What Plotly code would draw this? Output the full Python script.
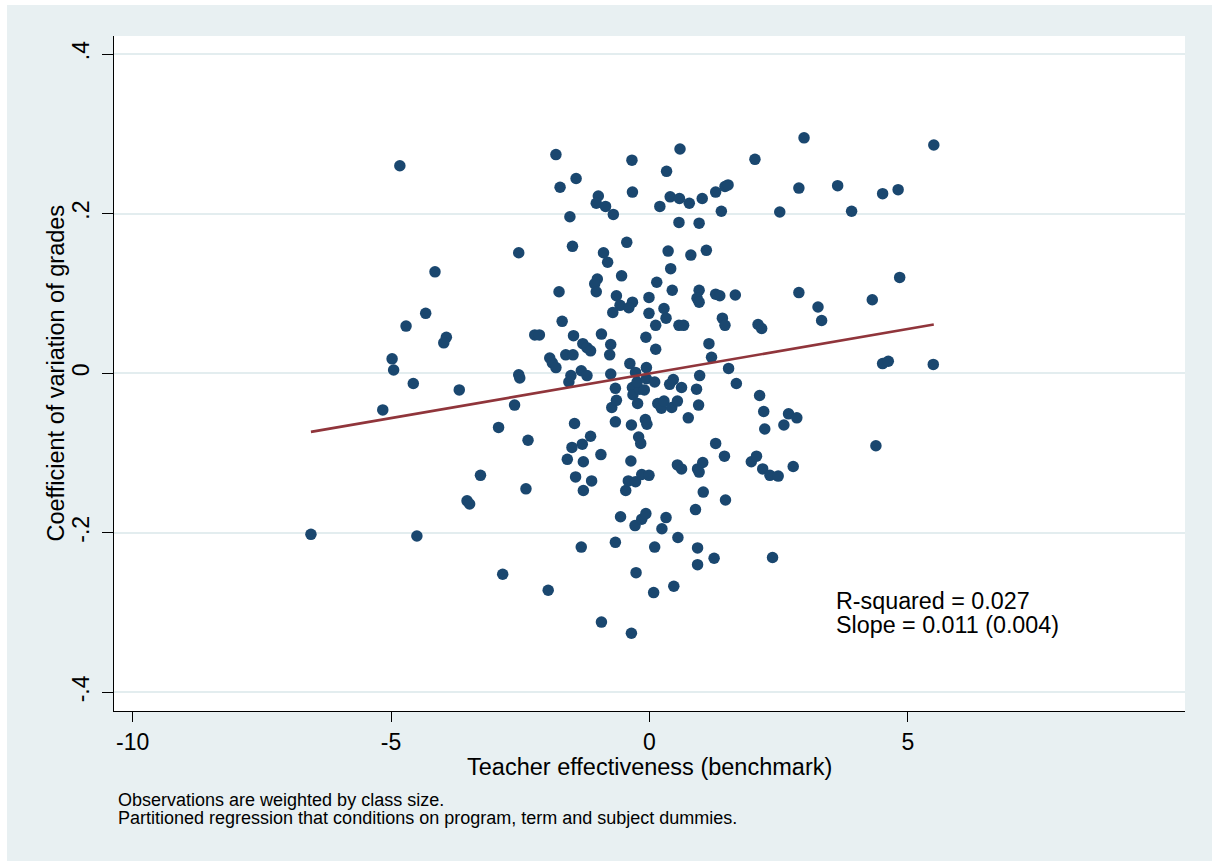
import plotly.graph_objects as go

# ---------------- data ----------------
teacher_effectiveness = [
    -4.83, -4.15, -4.33, -4.71, -3.93, -3.98, -4.98, -4.95,
    -4.57, -3.68, -5.16, -2.92, -3.27, -3.53, -3.48, -6.55, -4.50, -2.84,
    -1.81, -0.34, 0.59, -1.42, -1.73, 0.33, -0.33, -0.99, -1.03, -0.85, -0.70, -1.54, 0.20, 0.40, 0.58, 0.77, 1.02, 1.28, 0.57, 0.96,
    -2.53, -1.49, -0.44, -0.89, -0.81, 0.36, 0.80, 1.10, 0.41, -0.54, -1.01, -1.06, -1.03, -1.75, 0.14, 0.44, 0.96, 0.92, 0.96, 1.28,
    -0.64, -0.57, -0.33, -0.40, -0.71, -0.01, -0.01, 0.28, 0.32, 0.12, 0.57, 0.66, -1.69, -2.22, -2.13, -1.47, -0.93, -0.07, -1.29, -1.21,
    -1.14, -0.75, -0.77, 0.12, 1.15, 1.20, -1.93, -1.88, -1.81, -1.62, -1.48, -2.53, -1.52, -1.32, -1.21, -0.75, -0.38, -0.06, -0.27, 0.97,
    -2.51, -1.56, -2.61, -2.35, -2.39, -1.96, -1.45, -1.14, -1.30, -1.50, -1.59, -1.28, -0.94, -1.43, -1.12, -1.28, -1.32, -0.93, -0.35, -0.66,
    -0.56, -0.28, -0.15, -0.07, 0.32, 0.24, 0.55, 0.10, -0.26, 0.08, 0.47, 0.93, 0.93, 1.25, 0.89, 1.04, 0.93, 0.96, 1.03, 0.54,
    0.62, -0.36, -0.46, -0.41, -0.27, -0.15, -0.01, -0.66, -0.35, -0.08, -0.05, -0.21, -0.17, -0.73, -0.64, -0.66, -0.33, -0.32, -0.23, -0.19,
    -0.10, -0.24, -0.06, 0.10, 0.16, 0.23, 0.28, 0.43, 0.54, 0.39, 0.46, 0.62, 0.75, 0.91, 0.95, 1.28,
    2.99, 5.50, 2.04, 1.46, 1.52, 2.89, 3.64, 4.51, 4.81, 1.39, 2.52, 3.91, 1.36, 1.66, 2.89, 3.26, 3.33, 4.31, 4.84, 1.41,
    1.46, 2.10, 2.17, 1.53, 1.68, 4.51, 4.62, 5.49,
    2.13, 2.21, 2.69, 2.85, 2.60, 2.23, 1.45, 1.97, 2.07, 2.19, 2.33, 2.49, 2.78, 4.38, 1.47, 2.38,
]
grade_cv = [
    0.260, 0.127, 0.075, 0.059, 0.045, 0.038, 0.018, 0.004,
    -0.013, -0.021, -0.046, -0.068, -0.128, -0.160, -0.164, -0.202, -0.204, -0.252,
    0.274, 0.267, 0.281, 0.244, 0.233, 0.253, 0.227, 0.222, 0.213, 0.209, 0.199, 0.196, 0.209, 0.221, 0.219, 0.213, 0.219, 0.227, 0.189, 0.188,
    0.151, 0.159, 0.164, 0.151, 0.139, 0.153, 0.148, 0.154, 0.131, 0.122, 0.118, 0.112, 0.102, 0.102, 0.114, 0.104, 0.104, 0.094, 0.089, 0.099,
    0.097, 0.085, 0.089, 0.082, 0.076, 0.095, 0.075, 0.081, 0.069, 0.060, 0.060, 0.060, 0.065, 0.048, 0.048, 0.047, 0.049, 0.045, 0.037, 0.032,
    0.028, 0.036, 0.023, 0.030, 0.037, 0.020, 0.019, 0.013, 0.007, 0.023, 0.023, -0.002, -0.003, 0.003, -0.003, -0.001, 0.012, 0.007, 0.001, -0.003,
    -0.006, -0.011, -0.040, -0.084, -0.145, -0.272, -0.063, -0.079, -0.089, -0.093, -0.108, -0.111, -0.102, -0.130, -0.135, -0.147, -0.218, -0.312, -0.326, -0.212,
    -0.180, -0.191, -0.183, -0.176, -0.181, -0.195, -0.206, -0.218, -0.250, -0.275, -0.267, -0.219, -0.240, -0.232, -0.171, -0.149, -0.120, -0.124, -0.112, -0.115,
    -0.120, -0.110, -0.147, -0.135, -0.136, -0.127, -0.128, -0.061, -0.065, -0.058, -0.064, -0.080, -0.088, -0.043, -0.034, -0.019, -0.018, -0.027, -0.038, -0.020,
    -0.021, -0.011, -0.007, -0.011, -0.038, -0.044, -0.035, -0.043, -0.035, -0.014, -0.008, -0.018, -0.056, -0.020, -0.040, -0.088,
    0.295, 0.286, 0.268, 0.234, 0.236, 0.232, 0.235, 0.225, 0.230, 0.203, 0.202, 0.203, 0.097, 0.098, 0.101, 0.083, 0.066, 0.092, 0.120, 0.069,
    0.060, 0.061, 0.056, 0.006, -0.013, 0.012, 0.015, 0.011,
    -0.028, -0.048, -0.051, -0.056, -0.065, -0.070, -0.104, -0.111, -0.104, -0.120, -0.128, -0.129, -0.117, -0.091, -0.159, -0.231,
]

# fitted regression line (end points)
fit_x = [-6.55, 5.50]
fit_y = [-0.0736, 0.0610]

x_tick_vals = [-10, -5, 0, 5]
x_tick_text = ["-10", "-5", "0", "5"]
y_tick_vals = [-0.4, -0.2, 0.0, 0.2, 0.4]
y_tick_text = ["-.4", "-.2", "0", ".2", ".4"]

x_title = "Teacher effectiveness (benchmark)"
y_title = "Coefficient of variation of grades"
stats_lines = ["R-squared = 0.027", "Slope = 0.011 (0.004)"]
note_lines = ["Observations are weighted by class size.",
              "Partitioned regression that conditions on program, term and subject dummies."]

# ---------------- styling / layout ----------------
W, H = 1212, 861
L, R, T, B = 114, 1185, 36, 711          # plot area in pixels
PW, PH = R - L, B - T
FONT = "Liberation Sans, Arial, Helvetica, sans-serif"
BG = "#e8f0f2"
NAVY = "#1a476f"
MAROON = "#90353b"


def px(xp):
    return (xp - L) / PW


def py(yp):
    return (B - yp) / PH


fig = go.Figure()
fig.add_trace(go.Scatter(
    x=teacher_effectiveness, y=grade_cv, mode="markers",
    marker=dict(color=NAVY, size=11.5, line=dict(width=0)),
    showlegend=False, hoverinfo="x+y"))
fig.add_trace(go.Scatter(
    x=fit_x, y=fit_y, mode="lines",
    line=dict(color=MAROON, width=2.6),
    showlegend=False, hoverinfo="skip"))

annotations = [
    dict(text=x_title, x=px(649.5), y=py(767), xanchor="center", yanchor="middle",
         font=dict(size=23.5)),
    dict(text=y_title, x=px(55), y=py(373.5), xanchor="center", yanchor="middle",
         textangle=-90, font=dict(size=23.5)),
    dict(text=stats_lines[0], x=px(834), y=py(601), xanchor="left", yanchor="middle",
         font=dict(size=23.3)),
    dict(text=stats_lines[1], x=px(834), y=py(625), xanchor="left", yanchor="middle",
         font=dict(size=23.3)),
    dict(text=note_lines[0], x=px(115.5), y=py(800), xanchor="left", yanchor="middle",
         font=dict(size=18)),
    dict(text=note_lines[1], x=px(115.5), y=py(818), xanchor="left", yanchor="middle",
         font=dict(size=18)),
]
for a in annotations:
    a.update(xref="paper", yref="paper", showarrow=False)
    a["font"].update(family=FONT, color="#000000")

# white page strips at the top and left edge, outside the plot area
edge_strips = [
    dict(type="rect", xref="paper", yref="paper",
         x0=px(0), x1=px(W), y0=py(5), y1=py(0),
         fillcolor="#ffffff", line=dict(width=0), layer="below"),
    dict(type="rect", xref="paper", yref="paper",
         x0=px(0), x1=px(7), y0=py(H), y1=py(0),
         fillcolor="#ffffff", line=dict(width=0), layer="below"),
]

fig.update_layout(
    width=W, height=H,
    margin=dict(l=L, r=W - R, t=T, b=H - B, pad=0),
    paper_bgcolor=BG,
    plot_bgcolor="#ffffff",
    font=dict(family=FONT, color="#000000", size=23),
    annotations=annotations,
    shapes=edge_strips,
    xaxis=dict(range=[-10.36, 10.36], tickvals=x_tick_vals, ticktext=x_tick_text,
               showgrid=False, zeroline=False, showline=True, linecolor="#000000",
               linewidth=1.3, ticks="outside", ticklen=10, tickwidth=1.3,
               tickcolor="#000000", tickfont=dict(size=23, family=FONT),
               fixedrange=True),
    yaxis=dict(range=[-0.4234, 0.4226], tickvals=y_tick_vals, ticktext=y_tick_text,
               showgrid=True, gridcolor="#e3edef", gridwidth=2, zeroline=False,
               showline=True, linecolor="#000000", linewidth=1.3, ticks="outside",
               ticklen=11, tickwidth=1.3, tickcolor="#000000", tickangle=-90,
               ticklabelstandoff=4,
               tickfont=dict(size=23, family=FONT), fixedrange=True),
)

fig.write_html("out.html", config={"displayModeBar": False},
               post_script="document.body.style.margin='0';document.body.style.overflow='hidden';")
